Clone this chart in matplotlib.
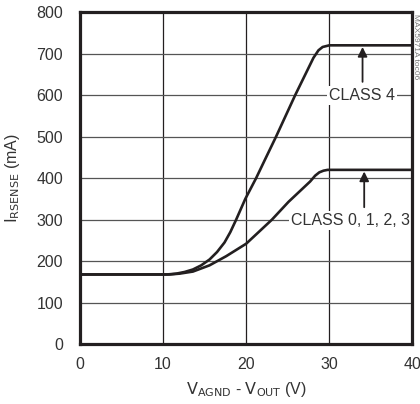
import numpy as np
import matplotlib
matplotlib.use('Agg')
import matplotlib.pyplot as plt

# values
v_class4 = [0, 10.5, 11.6, 12.6, 13.6, 14.6, 15.6, 16.5, 17.4, 18.1, 18.8, 19.9, 21.2, 22.3, 23.6, 25.9, 28.1, 28.7, 29.2, 30, 40]
i_class4 = [168, 168, 170, 174, 180, 190, 204, 222, 245, 270, 300, 350, 400, 446, 500, 600, 690, 708, 716, 720, 720]
v_class0123 = [0, 10.8, 12, 13.6, 15.6, 17.6, 20, 21.5, 23.1, 25.1, 27.7, 28.3, 28.8, 29.3, 29.8, 40]
i_class0123 = [168, 168, 170, 175, 190, 212, 242, 270, 300, 343, 392, 406, 414, 418, 420, 420]
xticks = [0, 10, 20, 30, 40]
yticks = [0, 100, 200, 300, 400, 500, 600, 700, 800]

plt.rcParams['font.family'] = ['Liberation Sans Narrow', 'Liberation Sans', 'DejaVu Sans']
plt.rcParams['mathtext.fontset'] = 'custom'
plt.rcParams['mathtext.rm'] = 'Liberation Sans Narrow'

ink = '#231f20'
fig = plt.figure(figsize=(4.2, 4.04), dpi=100)
ax = fig.add_axes([0.19, 0.148, 0.792, 0.822])

for v in xticks[1:-1]:
    ax.axvline(v, color=ink, lw=0.9, zorder=1)
for i in yticks[1:-1]:
    ax.axhline(i, color='#555555', lw=0.9, zorder=1)

ax.plot(v_class4, i_class4, color=ink, lw=1.9, solid_capstyle='round', zorder=3)
ax.plot(v_class0123, i_class0123, color=ink, lw=1.9, solid_capstyle='round', zorder=3)

ax.set_xlim(0, 40)
ax.set_ylim(0, 800)
ax.set_xticks(xticks)
ax.set_yticks(yticks)
ax.tick_params(length=0, labelsize=11.5, colors='#333333')
ax.tick_params(axis='x', pad=9)
ax.tick_params(axis='y', pad=12)
for s in ax.spines.values():
    s.set_linewidth(2.3)
    s.set_color(ink)
    s.set_zorder(5)

ax.set_ylabel(r'$\mathrm{I_{RSENSE}}$ (mA)', fontsize=11.5, color='#333333', labelpad=10)
ax.set_xlabel(r'$\mathrm{V_{AGND}}$ - $\mathrm{V_{OUT}}$ (V)', fontsize=11.5, color='#333333', labelpad=6)

box = dict(facecolor='white', edgecolor='none', pad=1.5)
ax.text(33.9, 600, 'CLASS 4', ha='center', va='center', fontsize=11.5, color='#333333', bbox=box, zorder=4)
ax.text(32.6, 297, 'CLASS 0, 1, 2, 3', ha='center', va='center', fontsize=11.5, color='#333333', bbox=box, zorder=4)
arrow = dict(arrowstyle='-|>', color=ink, lw=1.3, mutation_scale=14, shrinkA=0, shrinkB=0)
ax.annotate('', xy=(34, 716), xytext=(34, 632), arrowprops=arrow, zorder=4)
ax.annotate('', xy=(34.2, 416), xytext=(34.2, 330), arrowprops=arrow, zorder=4)

fig.text(0.99, 0.965, 'MAX5971A toc06', rotation=270, ha='center', va='top', fontsize=6, color='#777777')

fig.savefig('out.png', dpi=100)
